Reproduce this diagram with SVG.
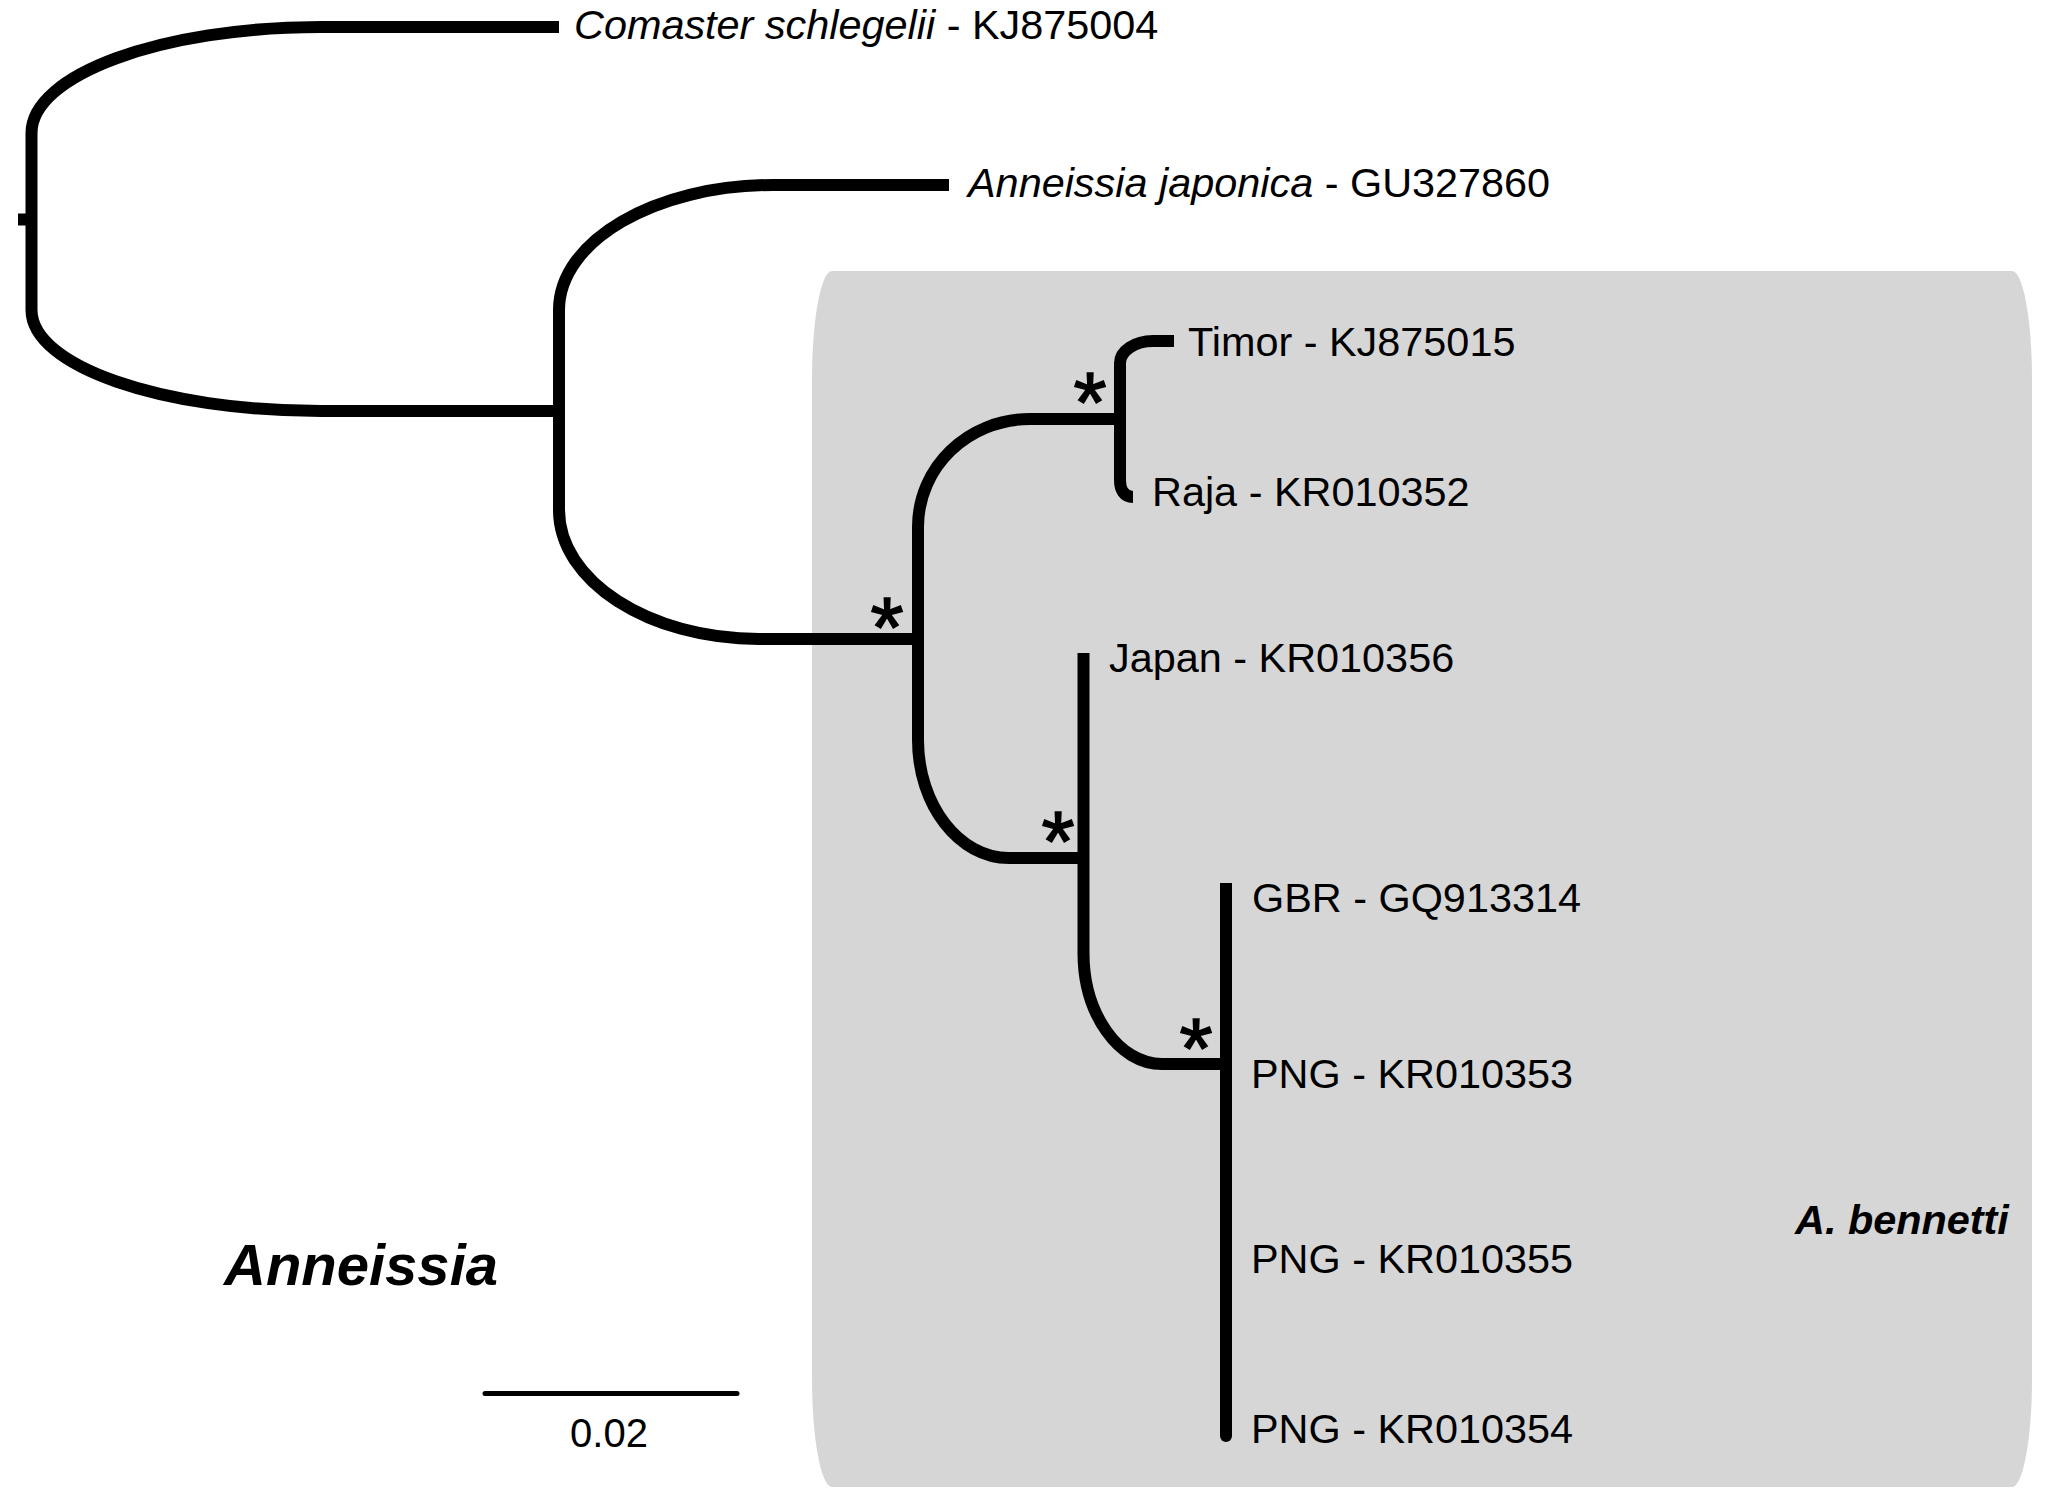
<svg xmlns="http://www.w3.org/2000/svg" width="2046" height="1502" viewBox="0 0 2046 1502">
<style>
.br{fill:none;stroke:#000;stroke-width:12;stroke-linecap:butt;stroke-linejoin:miter}
.lbl{font-family:"Liberation Sans",Arial,sans-serif;font-size:41.4px;fill:#000}
.it{font-style:italic}
.ast{font-family:"Liberation Sans",Arial,sans-serif;font-size:85px;fill:#000;stroke:#000;stroke-width:1.5;text-anchor:middle}
</style>
<rect id="clade-box" x="812" y="271" width="1220" height="1216" rx="20" ry="108" fill="#d6d6d6"/>
<g id="connectors">
<line class="br" x1="18" y1="219.5" x2="32" y2="219.5"/>
<path class="br" d="M 559,27 H 321 C 161,27 31.5,75 31.5,133 V 310 C 31.5,366 161,411 321,411 H 559"/>
<path class="br" d="M 949,185 H 773 C 655,185 559,241 559,310 V 510 C 559,581 649,639 759,639 H 918"/>
<path class="br" d="M 1120,419 H 1030 C 968,419 918,467 918,527 V 740 C 918,805 959,858 1009,858 H 1083.5"/>
<path class="br" d="M 1174,341 H 1153 C 1135,341 1120,351 1120,363 V 480 C 1120,490 1124,497 1133,497"/>
<path class="br" d="M 1083.5,653 V 953 C 1083.5,1014 1119,1064 1162,1064 H 1226"/>
<path class="br" d="M 1226,883 V 1436"/>
<circle cx="1226" cy="1436" r="6" fill="#000"/>
</g>
<g id="support">
<text class="ast" x="887" y="657">*</text>
<text class="ast" x="1090" y="432">*</text>
<text class="ast" x="1058" y="871">*</text>
<text class="ast" x="1196" y="1078">*</text>
</g>
<g id="node-comaster"><text class="lbl" x="574" y="39"><tspan class="it">Comaster schlegelii</tspan> - KJ875004</text></g>
<g id="node-japonica"><text class="lbl" x="968" y="197"><tspan class="it">Anneissia japonica</tspan> - GU327860</text></g>
<g id="node-timor"><text class="lbl" x="1188" y="356">Timor - KJ875015</text></g>
<g id="node-raja"><text class="lbl" x="1152" y="506">Raja - KR010352</text></g>
<g id="node-japan"><text class="lbl" x="1109" y="672">Japan - KR010356</text></g>
<g id="node-gbr"><text class="lbl" x="1252" y="912">GBR - GQ913314</text></g>
<g id="node-png353"><text class="lbl" x="1251" y="1088">PNG - KR010353</text></g>
<g id="node-png355"><text class="lbl" x="1251" y="1273">PNG - KR010355</text></g>
<g id="node-png354"><text class="lbl" x="1251" y="1443">PNG - KR010354</text></g>
<g id="label-bennetti"><text class="lbl" x="1795" y="1234" font-weight="bold" font-style="italic">A. bennetti</text></g>
<g id="label-anneissia"><text x="224" y="1285" font-family="'Liberation Sans',Arial,sans-serif" font-size="58" font-weight="bold" font-style="italic">Anneissia</text></g>
<g id="scale-bar">
<line x1="485" y1="1393.5" x2="737" y2="1393.5" stroke="#000" stroke-width="5" stroke-linecap="round"/>
<text x="609" y="1447" font-family="'Liberation Sans',Arial,sans-serif" font-size="40" text-anchor="middle">0.02</text>
</g>
</svg>
